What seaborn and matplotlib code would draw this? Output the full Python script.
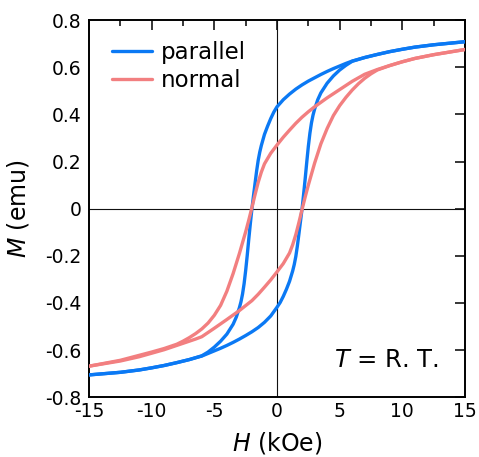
import matplotlib
matplotlib.use("Agg")
import matplotlib.pyplot as plt
from matplotlib.lines import Line2D
from matplotlib.ticker import MultipleLocator, FixedLocator, FixedFormatter
import pandas as pd
import seaborn as sns

# Magnetization loops M(H) at room temperature, field in kOe, moment in emu.
# Each loop is stored as a descending sweep (+15 -> -15 kOe) and an ascending sweep.
par_down_H = [15, 12.5, 11, 10, 9, 8, 7, 6, 5.5, 5, 4.5, 4, 3.5, 3, 2.5, 2, 1.5, 1, 0.5, 0,
              -0.25, -0.5, -0.75, -1, -1.25, -1.375, -1.5, -1.625, -1.75, -1.875, -2,
              -2.125, -2.25, -2.375, -2.5, -2.625, -2.75, -2.875, -3, -3.25, -3.5, -4, -4.5,
              -5, -5.5, -6, -7, -8, -9, -10, -11, -12.5, -15]
par_down_M = [0.708, 0.695, 0.685, 0.676, 0.666, 0.654, 0.641, 0.626, 0.616, 0.605, 0.594,
              0.582, 0.569, 0.555, 0.541, 0.525, 0.507, 0.486, 0.462, 0.432, 0.410, 0.382,
              0.350, 0.315, 0.268, 0.240, 0.205, 0.160, 0.108, 0.055, 0.000, -0.062,
              -0.128, -0.198, -0.262, -0.318, -0.362, -0.395, -0.420, -0.460, -0.490,
              -0.532, -0.562, -0.587, -0.608, -0.624, -0.640, -0.653, -0.665, -0.675,
              -0.684, -0.694, -0.705]

par_up_H = [-15, -12.5, -11, -10, -9, -8, -7, -6, -5.5, -5, -4.5, -4, -3.5, -3, -2.5, -2,
            -1.5, -1, -0.5, 0, 0.25, 0.5, 0.75, 1, 1.25, 1.375, 1.5, 1.625, 1.75, 1.875, 2,
            2.125, 2.25, 2.375, 2.5, 2.625, 2.75, 2.875, 3, 3.25, 3.5, 4, 4.5, 5, 5.5, 6, 7,
            8, 9, 10, 11, 12.5, 15]
par_up_M = [-0.705, -0.694, -0.684, -0.675, -0.665, -0.653, -0.640, -0.625, -0.614, -0.603,
            -0.592, -0.580, -0.567, -0.553, -0.538, -0.522, -0.504, -0.482, -0.455, -0.418,
            -0.398, -0.372, -0.342, -0.308, -0.264, -0.237, -0.203, -0.158, -0.106, -0.053,
            0.000, 0.062, 0.128, 0.198, 0.264, 0.320, 0.364, 0.397, 0.422, 0.462, 0.491,
            0.532, 0.563, 0.588, 0.608, 0.625, 0.641, 0.654, 0.666, 0.676, 0.685, 0.695,
            0.708]

nor_down_H = [15, 12.5, 11, 10, 9, 8, 7, 6, 5, 4, 3, 2.5, 2, 1.5, 1, 0.5, 0, -0.5, -1, -1.25,
              -1.5, -1.75, -2, -2.25, -2.5, -3, -3.5, -4, -4.5, -5, -5.5, -6, -6.5, -7, -7.5,
              -8, -9, -10, -11, -12.5, -15]
nor_down_M = [0.675, 0.653, 0.637, 0.623, 0.607, 0.590, 0.570, 0.540, 0.505, 0.470, 0.432,
              0.411, 0.388, 0.362, 0.333, 0.303, 0.270, 0.235, 0.190, 0.155, 0.112, 0.060,
              0.005, -0.048, -0.098, -0.190, -0.275, -0.350, -0.410, -0.452, -0.485, -0.510,
              -0.530, -0.547, -0.562, -0.575, -0.593, -0.608, -0.622, -0.643, -0.668]

nor_up_H = [-15, -12.5, -11, -10, -9, -8, -7.5, -7, -6.5, -6, -5, -4, -3, -2.5, -2, -1.5, -1,
            -0.5, 0, 0.5, 1, 1.25, 1.5, 1.75, 2, 2.25, 2.5, 3, 3.5, 4, 4.5, 5, 5.5, 6, 6.5, 7,
            7.5, 8, 9, 10, 11, 12.5, 15]
nor_up_M = [-0.668, -0.646, -0.628, -0.613, -0.598, -0.580, -0.571, -0.562, -0.553, -0.543,
            -0.507, -0.470, -0.432, -0.411, -0.390, -0.363, -0.333, -0.302, -0.268, -0.233,
            -0.188, -0.153, -0.110, -0.058, -0.003, 0.050, 0.100, 0.193, 0.275, 0.340, 0.395,
            0.437, 0.472, 0.503, 0.530, 0.553, 0.572, 0.588, 0.607, 0.623, 0.637, 0.653,
            0.675]

samples = ["parallel", "normal"]
x_ticks = [-15, -10, -5, 0, 5, 10, 15]
x_tick_labels = ["-15", "-10", "-5", "0", "5", "10", "15"]
y_ticks = [-0.8, -0.6, -0.4, -0.2, 0, 0.2, 0.4, 0.6, 0.8]
y_tick_labels = ["-0.8", "-0.6", "-0.4", "-0.2", "0", "0.2", "0.4", "0.6", "0.8"]

BLUE = "#0b79f4"
SALMON = "#f27f80"
palette = {"parallel": BLUE, "normal": SALMON}

frames = []
for name, branch, H, M in [
    ("parallel", "down", par_down_H, par_down_M),
    ("parallel", "up", par_up_H, par_up_M),
    ("normal", "down", nor_down_H, nor_down_M),
    ("normal", "up", nor_up_H, nor_up_M),
]:
    frames.append(pd.DataFrame({"H": H, "M": M, "sample": name, "branch": branch}))
df = pd.concat(frames, ignore_index=True)

sns.set_theme(style="white")
plt.rcParams["font.family"] = ["DejaVu Sans"]
plt.rcParams["mathtext.fontset"] = "dejavusans"
plt.rcParams["text.color"] = "black"
plt.rcParams["axes.labelcolor"] = "black"
plt.rcParams["xtick.color"] = "black"
plt.rcParams["ytick.color"] = "black"
plt.rcParams["lines.solid_joinstyle"] = "round"

fig = plt.figure(figsize=(4.79, 4.57), dpi=100)
ax = fig.add_axes([0.1858, 0.1306, 0.785, 0.8256])

ax.axhline(0, color="#111111", lw=0.8, zorder=1)
ax.axvline(0, color="#111111", lw=0.8, zorder=1)

sns.lineplot(data=df, x="H", y="M", hue="sample", hue_order=samples, units="branch",
             estimator=None, sort=False, palette=palette, linewidth=2.4,
             legend=False, ax=ax, zorder=3)

ax.set_xlim(-15, 15)
ax.set_ylim(-0.8, 0.8)
ax.xaxis.set_major_locator(FixedLocator(x_ticks))
ax.xaxis.set_major_formatter(FixedFormatter(x_tick_labels))
ax.xaxis.set_minor_locator(MultipleLocator(2.5))
ax.yaxis.set_major_locator(FixedLocator(y_ticks))
ax.yaxis.set_major_formatter(FixedFormatter(y_tick_labels))

ax.tick_params(which="both", direction="in", top=True, right=True, width=1.1,
               colors="black")
ax.tick_params(which="major", length=7.5)
ax.tick_params(which="minor", length=4.3)
ax.tick_params(axis="x", which="major", pad=3.3, labelsize=13.5)
ax.tick_params(axis="y", which="major", pad=5.3, labelsize=13.5)

for sp in ax.spines.values():
    sp.set_visible(True)
    sp.set_color("black")
    sp.set_linewidth(1.4)

ax.set_xlabel(r"$H$ (kOe)", fontsize=17, labelpad=6.5)
ax.set_ylabel(r"$M$ (emu)", fontsize=17, labelpad=10)

handles = [Line2D([], [], color=palette[s], lw=2.4) for s in samples]
ax.legend(handles, samples, loc="upper left", bbox_to_anchor=(0.0604, 0.944),
          frameon=False, fontsize=16.5, handlelength=1.75, handletextpad=0.4,
          labelspacing=0.2, borderpad=0, borderaxespad=0)

ax.text(0.929, 0.0795, r"$T$ = R. T.", transform=ax.transAxes, ha="right",
        va="baseline", fontsize=17.5)

fig.savefig("out.png", dpi=100)
